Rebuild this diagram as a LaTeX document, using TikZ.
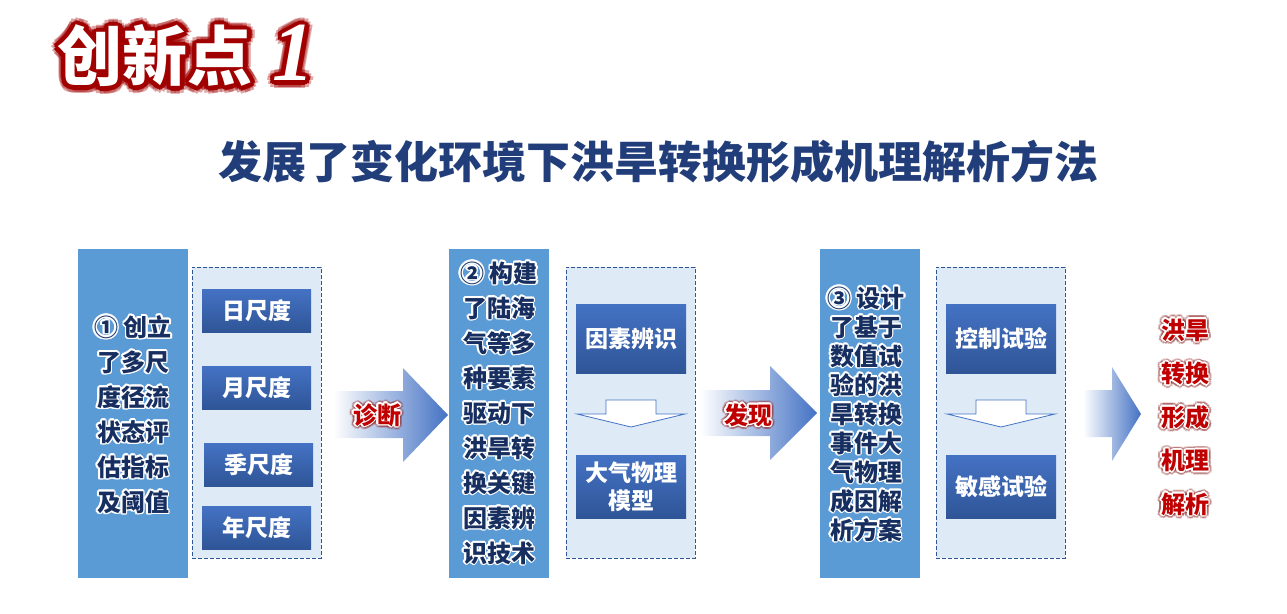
\documentclass[tikz,border=0pt]{standalone}
\usepackage{fontspec}
\setmainfont{Noto Sans CJK SC}
\newfontfamily\numfont{Liberation Serif}
\usetikzlibrary{calc}

\definecolor{barblue}{HTML}{5B9BD5}
\definecolor{paleblue}{HTML}{DEEBF7}
\definecolor{boxtop}{HTML}{4472C4}
\definecolor{boxbot}{HTML}{2F5597}
\definecolor{navy}{HTML}{172F60}
\definecolor{headblue}{HTML}{213E7A}
\definecolor{deepred}{HTML}{C00000}
\definecolor{darkred}{HTML}{A00000}

% outline copies behind a text
\newcommand{\halo}[5][]{%
  \foreach \ang in {0,30,...,330}
    \node[#1,text=#3] (halo-\ang) at ([shift={(\ang:#4)}]#2) {#5};}
\newcommand{\headtext}{创新点\hspace{20pt}{\numfont\itshape\fontsize{84}{84}\selectfont 1}}
\newcommand{\firsttext}{① 创立\\了多尺\\度径流\\状态评\\估指标\\及阈值}
\newcommand{\secondtext}{② 构建\\了陆海\\气等多\\种要素\\驱动下\\洪旱转\\换关键\\因素辨\\识技术}
\newcommand{\thirdtext}{③ 设计\\了基于\\数值试\\验的洪\\旱转换\\事件大\\气物理\\成因解\\析方案}
\newcommand{\resulttext}{洪旱\\转换\\形成\\机理\\解析}

\tikzset{pics/sinkarrow/.style={code={
  \draw[hollow] (-25,-14) -- (25,-14) -- (25,0) -- (54,0) -- (0,13)
    -- (-54,0) -- (-25,0) -- cycle;}}}

\begin{document}
\begin{tikzpicture}[x=1pt,y=-1pt,
  title/.style={font=\bfseries\fontsize{65}{70}\selectfont,inner sep=0},
  bar/.style={fill=barblue,minimum width=#1,minimum height=329,inner sep=0},
  bar/.default=100,
  group/.style={draw=boxbot,line width=0.9,dash pattern=on 4pt off 2pt,
    fill=paleblue,minimum width=129,minimum height=291,inner sep=0},
  scalebox/.style={top color=boxtop,bottom color=boxbot,minimum width=109,
    minimum height=43,inner sep=0,text=white,
    font=\bfseries\fontsize{23}{28}\selectfont},
  stepbox/.style={scalebox,minimum width=110,minimum height=69,align=center},
  hollow/.style={draw=boxtop,fill=white,line width=0.8},
  flow/.style={left color=white,right color=boxtop},
  bartext/.style={font=\bfseries\fontsize{24}{35}\selectfont,align=center,
    inner sep=0},
  tighttext/.style={bartext,font=\bfseries\fontsize{24}{29}\selectfont},
  redtext/.style={font=\bfseries\fontsize{24}{43.5}\selectfont,align=center,
    inner sep=0}]

  \useasboundingbox (0,0) rectangle (1287,613);

  % heading
  \halo[title,text opacity=0.35]{186,56}{darkred}{7.5}{\headtext}
  \halo[title]{186,56}{darkred}{4.5}{\headtext}
  \node[title,text=white] (head) at (186,56) {\headtext};
  \node[font=\bfseries\fontsize{44}{48}\selectfont,text=headblue]
    (subhead) at (658,162) {发展了变化环境下洪旱转换形成机理解析方法};

  % columns
  \node[bar=110] (bar1) at (133,413.5) {};
  \node[bar] (bar2) at (499,413.5) {};
  \node[bar] (bar3) at (870,413.5) {};
  \node[group] (grp1) at (256.5,412.5) {};
  \node[group] (grp2) at (630.5,412.5) {};
  \node[group] (grp3) at (1000.5,412.5) {};

  \node[scalebox] (day) at (256.5,310.5) {日尺度};
  \node[scalebox] (month) at (256.5,387.5) {月尺度};
  \node[scalebox] (season) at (258.5,464.5) {季尺度};
  \node[scalebox] (year) at (256.5,527.5) {年尺度};

  \node[stepbox] (factor) at (631,338.5) {因素辨识};
  \node[stepbox,minimum height=63] (model) at (631,486.5) {大气物理\\模型};
  \node[stepbox] (control) at (1001,338.5) {控制试验};
  \node[stepbox,minimum height=63] (sens) at (1001,486.5) {敏感试验};
  \pic at ($(factor.south)!0.5!(model.north)$) {sinkarrow};
  \pic at ($(control.south)!0.5!(sens.north)$) {sinkarrow};

  % big arrows
  \shade[flow] (333,391) -- (403,391) -- (403,368) -- (448,415) -- (403,462)
    -- (403,438) -- (333,438) -- cycle;
  \shade[flow] (700,390) -- (770,390) -- (770,366) -- (817,413) -- (770,460)
    -- (770,436) -- (700,436) -- cycle;
  \shade[flow] (1083,390) -- (1112,390) -- (1112,367) -- (1141,414)
    -- (1112,461) -- (1112,437) -- (1083,437) -- cycle;

  \halo[redtext,text opacity=0.35]{377,415}{darkred!60!gray}{3.5}{诊断}
  \halo[redtext]{377,415}{white}{1.6}{诊断}
  \node[redtext,text=deepred] (diag) at (377,415) {诊断};
  \halo[redtext,text opacity=0.35]{748,415}{darkred!60!gray}{3.5}{发现}
  \halo[redtext]{748,415}{white}{1.6}{发现}
  \node[redtext,text=deepred] (find) at (748,415) {发现};

  % column texts
  \halo[bartext]{133,414.5}{white}{1.6}{\firsttext}
  \node[bartext,text=navy] (first) at (133,414.5) {\firsttext};
  \halo[bartext]{499,413}{white}{1.6}{\secondtext}
  \node[bartext,text=navy] (second) at (499,413) {\secondtext};
  \halo[tighttext]{866,414}{white}{1.6}{\thirdtext}
  \node[tighttext,text=navy] (third) at (866,414) {\thirdtext};

  \halo[redtext,text opacity=0.35]{1185,417}{darkred!60!gray}{3.5}{\resulttext}
  \halo[redtext]{1185,417}{white}{1.6}{\resulttext}
  \node[redtext,text=deepred] (result) at (1185,417) {\resulttext};
\end{tikzpicture}
\end{document}
